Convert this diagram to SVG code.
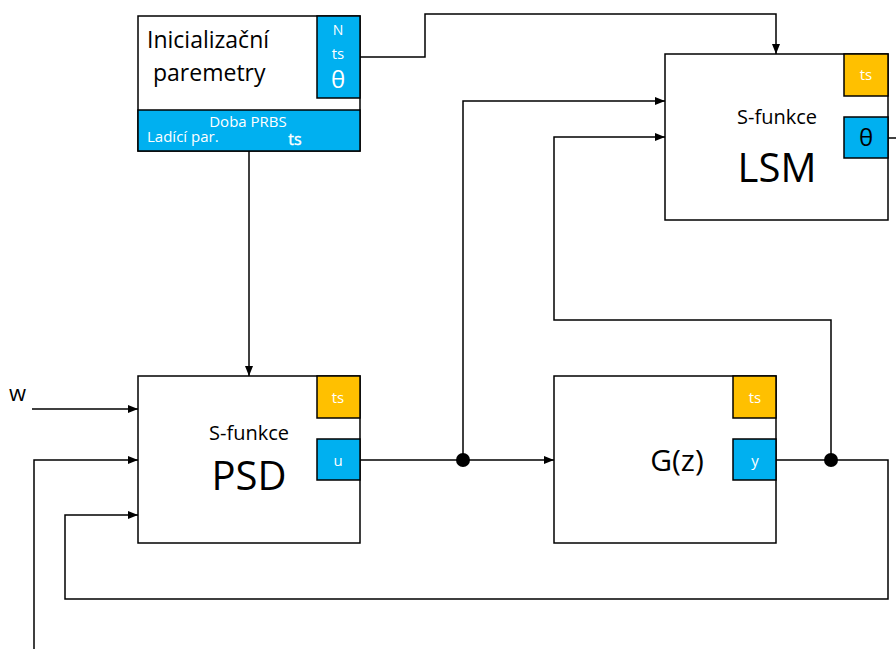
<svg xmlns="http://www.w3.org/2000/svg" width="896" height="649" viewBox="0 0 896 649">
  <defs>
    <marker id="arr" viewBox="0 0 10 8" refX="10" refY="4" markerWidth="10" markerHeight="8" markerUnits="userSpaceOnUse" orient="auto">
      <path d="M0,0 L10,4 L0,8 z" fill="#000"/>
    </marker>
  </defs>
  <style>
    .box { fill: #fff; stroke: #000; stroke-width: 1.5; }
    .blue { fill: #00B0F0; stroke: #000; stroke-width: 1.5; }
    .orange { fill: #FFC000; stroke: #000; stroke-width: 1.5; }
    .wire { fill: none; stroke: #000; stroke-width: 1.5; }
    .arrow { marker-end: url(#arr); }
    text { font-family: "Open Sans", "Liberation Sans", sans-serif; }
    .port { fill: #fff; text-anchor: middle; }
    .lbl { fill: #000; text-anchor: middle; }
  </style>
  <rect width="896" height="649" fill="#fff"/>

  <!-- connectors -->
  <g id="connectors">
    <polyline class="wire arrow" points="360,57 425,57 425,14 776,14 776,54"/>
    <line class="wire arrow" x1="249" y1="151" x2="249" y2="376"/>
    <line class="wire arrow" x1="32" y1="409" x2="138" y2="409"/>
    <polyline class="wire arrow" points="34,649 34,460 138,460"/>
    <polyline class="wire arrow" points="776,460 888,460 888,599 65,599 65,515 138,515"/>
    <line class="wire arrow" x1="360" y1="460" x2="554" y2="460"/>
    <polyline class="wire arrow" points="463,460 463,101 665,101"/>
    <polyline class="wire arrow" points="831,460 831,320 554,320 554,137 665,137"/>
    <line class="wire" x1="888" y1="138" x2="896" y2="138"/>
    <circle cx="463" cy="460" r="7" fill="#000"/>
    <circle cx="831" cy="460" r="7" fill="#000"/>
  </g>

  <!-- initial parameters -->
  <g id="init">
    <rect class="box" x="138" y="16" width="222" height="135"/>
    <rect class="blue" x="317" y="16" width="43" height="82"/>
    <rect class="blue" x="138" y="110" width="222" height="41"/>
    <text x="147" y="48" font-size="23">Inicializační</text>
    <text x="153" y="81" font-size="23">paremetry</text>
    <text class="port" x="338" y="35" font-size="14">N</text>
    <text class="port" x="338" y="59" font-size="15">ts</text>
    <text class="port" x="338" y="88" font-size="24">θ</text>
    <text class="port" x="248" y="127" font-size="15">Doba PRBS</text>
    <text x="147" y="142" font-size="15" fill="#fff">Ladící par.</text>
    <text class="port" x="295" y="145" font-size="16" stroke="#fff" stroke-width="0.4">ts</text>
  </g>

  <!-- LSM block -->
  <g id="lsm">
    <rect class="box" x="665" y="54" width="223" height="166"/>
    <rect class="orange" x="844" y="54" width="44" height="42"/>
    <rect class="blue" x="844" y="117" width="44" height="41"/>
    <text class="port" x="866" y="80" font-size="15">ts</text>
    <text class="lbl" x="866" y="146" font-size="24">θ</text>
    <text class="lbl" x="777" y="124" font-size="20">S-funkce</text>
    <text class="lbl" x="777" y="182" font-size="40">LSM</text>
  </g>

  <!-- PSD controller -->
  <g id="psd">
    <rect class="box" x="138" y="376" width="222" height="167"/>
    <rect class="orange" x="317" y="376" width="43" height="42"/>
    <rect class="blue" x="317" y="439" width="43" height="41"/>
    <text class="port" x="338" y="403" font-size="15">ts</text>
    <text class="port" x="338" y="466" font-size="15">u</text>
    <text class="lbl" x="249" y="440" font-size="20">S-funkce</text>
    <text class="lbl" x="249" y="490" font-size="40">PSD</text>
  </g>

  <!-- plant -->
  <g id="plant">
    <rect class="box" x="554" y="376" width="222" height="167"/>
    <rect class="orange" x="733" y="376" width="43" height="42"/>
    <rect class="blue" x="733" y="439" width="43" height="41"/>
    <text class="port" x="755" y="403" font-size="15">ts</text>
    <text class="port" x="755" y="466" font-size="15">y</text>
    <text class="lbl" x="677" y="471" font-size="30">G(z)</text>
  </g>

  <g id="w-label">
    <text x="9" y="401" font-size="22">w</text>
  </g>
</svg>
